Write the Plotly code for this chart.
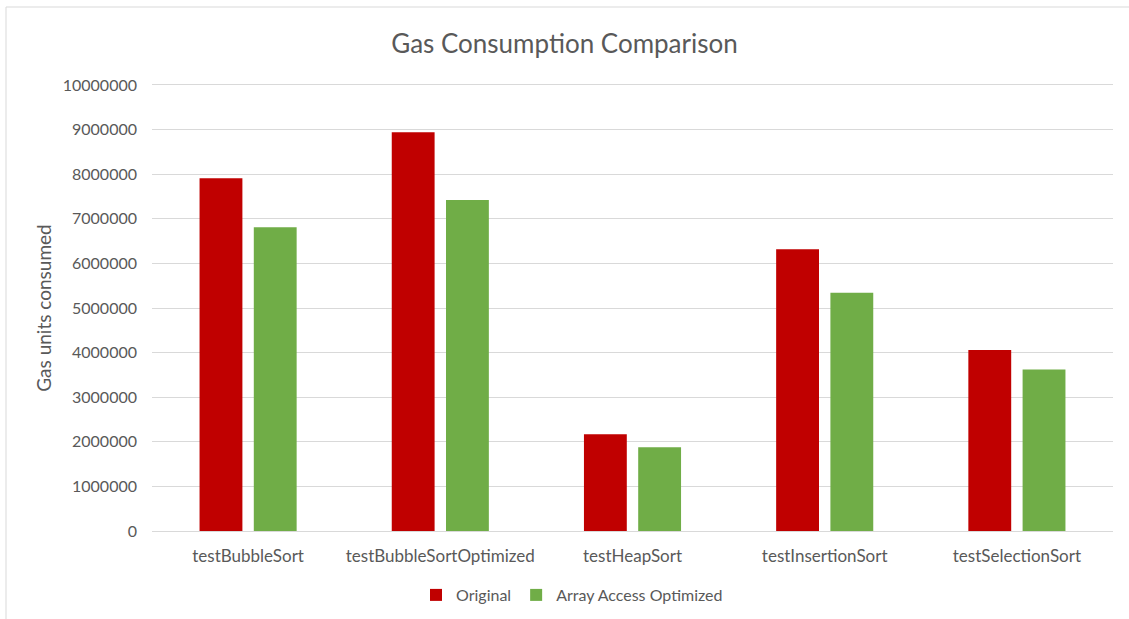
import plotly.graph_objects as go

categories = ["testBubbleSort", "testBubbleSortOptimized", "testHeapSort",
              "testInsertionSort", "testSelectionSort"]
original = [7910000, 8940000, 2170000, 6320000, 4060000]
array_access_optimized = [6810000, 7420000, 1880000, 5340000, 3620000]
y_ticks = [0, 1000000, 2000000, 3000000, 4000000, 5000000,
           6000000, 7000000, 8000000, 9000000, 10000000]

FONT = "Lato"
TXT = "#595959"

fig = go.Figure()
fig.add_trace(go.Bar(name="Original", x=categories, y=original,
                     marker=dict(color="#C00000", line=dict(width=0))))
fig.add_trace(go.Bar(name="Array Access Optimized", x=categories, y=array_access_optimized,
                     marker=dict(color="#70AD47", line=dict(width=0))))

W, H = 1129, 619
L, R, T, B = 152, 16, 85, 88
pw, ph = W - L - R, H - T - B

fig.update_layout(
    width=W, height=H,
    margin=dict(l=L, r=R, t=T, b=B, autoexpand=False),
    paper_bgcolor="white", plot_bgcolor="white",
    barmode="group", bargap=0.4355, bargroupgap=0.21,
    font=dict(family=FONT, color=TXT, size=16),
    title=dict(text="Gas Consumption Comparison", x=0.5, xanchor="center",
               y=1 - 44 / H, yanchor="middle",
               font=dict(family=FONT, size=26, color=TXT)),
    xaxis=dict(showgrid=False, showline=True, mirror=True,
               linecolor="#D9D9D9", linewidth=1,
               ticks="", ticklabelstandoff=10, tickfont=dict(size=17, color=TXT)),
    yaxis=dict(range=[0, 10000000], tickvals=y_ticks,
               ticktext=[str(v) for v in y_ticks],
               showgrid=True, gridcolor="#D9D9D9", gridwidth=1,
               zeroline=False, showline=False, ticks="", ticklabelstandoff=14,
               tickfont=dict(size=16, color=TXT),
               title=dict(text="Gas units consumed", standoff=6,
                          font=dict(size=19, color=TXT))),
    legend=dict(orientation="h", x=(572 - L) / pw, xanchor="center",
                y=-(595 - T - ph) / ph, yanchor="middle",
                font=dict(size=16, color=TXT),
                itemwidth=30, traceorder="normal"),
    shapes=[dict(type="rect", xref="paper", yref="paper",
                 x0=(6 - L) / pw, x1=(W + 20 - L) / pw,
                 y0=-(H + 20 - T - ph) / ph, y1=(H - 10 - T) / ph,
                 line=dict(color="#D9D9D9", width=1), layer="below")],
)

fig.write_html("out.html")
